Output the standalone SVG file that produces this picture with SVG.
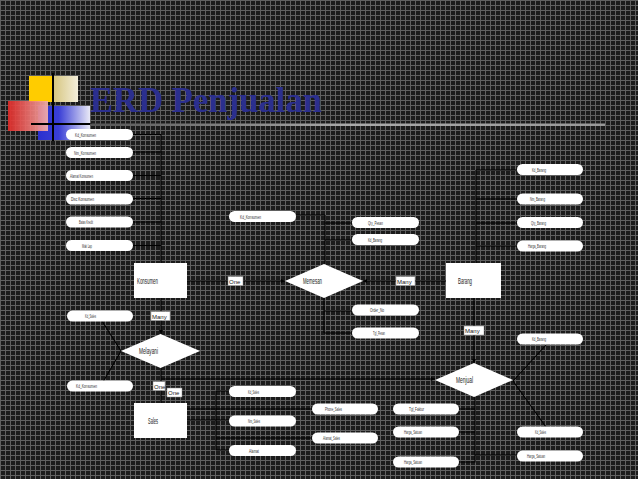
<svg xmlns="http://www.w3.org/2000/svg" width="638" height="479" viewBox="0 0 638 479">
<defs>
<pattern id="grid" x="0" y="0" width="5" height="5" patternUnits="userSpaceOnUse">
<rect width="5" height="5" fill="#1b1b1b"/>
<path d="M0.5 0V5M0 0.5H5" stroke="#606060" stroke-width="1"/>
</pattern>
<linearGradient id="beige" x1="0" x2="1" y1="0" y2="0"><stop offset="0" stop-color="#d6c57e"/><stop offset="1" stop-color="#f3eedb"/></linearGradient>
<linearGradient id="red" x1="0" x2="1" y1="0" y2="0"><stop offset="0" stop-color="#e12a27"/><stop offset="1" stop-color="#f5b0ae"/></linearGradient>
<linearGradient id="blue" x1="0" x2="1" y1="0" y2="0"><stop offset="0" stop-color="#2a2fcf"/><stop offset="0.4" stop-color="#3a3fd6"/><stop offset="1" stop-color="#e9e9f6"/></linearGradient>
<linearGradient id="rule" x1="0" x2="1" y1="0" y2="0"><stop offset="0" stop-color="#555"/><stop offset="0.5" stop-color="#aaa"/><stop offset="1" stop-color="#999"/></linearGradient>
<marker id="ah" viewBox="0 0 6 6" refX="6" refY="3" markerWidth="4" markerHeight="4" orient="auto" markerUnits="userSpaceOnUse"><path d="M0 0L6 3L0 6Z" fill="#000"/></marker>
<style>
.at{fill:#fff}
.t{font-family:"Liberation Sans Narrow","Liberation Sans",Arial,sans-serif;font-size:5.5px;fill:#333}
.e{font-family:"Liberation Sans Narrow","Liberation Sans",Arial,sans-serif;font-size:8.5px;fill:#222}
.lb{fill:#fff;stroke:#888;stroke-width:0.5}
.lt{font-family:"Liberation Sans Narrow","Liberation Sans",Arial,sans-serif;font-size:6px;fill:#222}
.c{stroke:#000;stroke-width:1.1;fill:none}
</style>
</defs>
<rect width="638" height="479" fill="url(#grid)"/>

<g id="connectors">
<path class="c" d="M161 134.5V263M133 134.5H161M133 152H161M133 175.5H161M133 198.5H161M133 222H161M133 245.5H161"/>
<path class="c" d="M187 281H285" marker-end="url(#ah)"/>
<path class="c" d="M446 281H363" marker-end="url(#ah)"/>
<path class="c" d="M325 264V215M296 215H325M325 223H352M325 240H352"/>
<path class="c" d="M324 298V333M324 311H352M324 333H352"/>
<path class="c" d="M476 263V170M476 170H517M476 199H517M476 223H517M476 246H517"/>
<path class="c" d="M474 298V363" marker-end="url(#ah)"/>
<path class="c" d="M161 298V334" marker-end="url(#ah)"/>
<path class="c" d="M161 368V403"/>
<path class="c" d="M102 321L121 351L103 382"/>
<path class="c" d="M161 379H435" marker-end="url(#ah)"/>
<path class="c" d="M187 420H229M216 391V450M216 391H229M216 450H229M187 409H312M216 438H312"/>
<path class="c" d="M475 397V462H459M459 409H475M459 432H475M475 455H517"/>
<path class="c" d="M513 381L546 345M513 381L546 427"/>
</g>

<g id="logo">
<rect x="29" y="76" width="24" height="26" fill="#ffcc00"/>
<rect x="53" y="76" width="25" height="26" fill="url(#beige)"/>
<rect x="38" y="106" width="52" height="34" fill="url(#blue)"/>
<rect x="8" y="101" width="40" height="30" fill="url(#red)" opacity="0.92"/>
<path d="M53 73V141M31 124H92" stroke="#000" stroke-width="2"/>
</g>
<g id="title">
<rect x="90" y="123.5" width="515" height="2.5" fill="url(#rule)"/>
<text x="90" y="112" font-family="Liberation Serif,serif" font-weight="bold" font-size="35" fill="#2b2f8e" textLength="232" lengthAdjust="spacingAndGlyphs">ERD Penjualan</text>
</g>

<g id="konsumen-attrs">
<rect class="at" x="66" y="129" width="67" height="11" rx="5.5"/><text class="t" x="75" y="136.5" textLength="21" lengthAdjust="spacingAndGlyphs">Kd_Konsumen</text>
<rect class="at" x="66" y="147" width="67" height="11" rx="5.5"/><text class="t" x="74" y="154.5" textLength="22" lengthAdjust="spacingAndGlyphs">Nm_Konsumen</text>
<rect class="at" x="66" y="170" width="67" height="11" rx="5.5"/><text class="t" x="70" y="177.5" textLength="23" lengthAdjust="spacingAndGlyphs">Alamat Konsumen</text>
<rect class="at" x="66" y="193.5" width="67" height="11" rx="5.5"/><text class="t" x="71" y="201" textLength="23" lengthAdjust="spacingAndGlyphs">Disc Konsumen</text>
<rect class="at" x="66" y="216.5" width="67" height="11" rx="5.5"/><text class="t" x="79" y="224" textLength="14" lengthAdjust="spacingAndGlyphs">Batas Kredit</text>
<rect class="at" x="66" y="240" width="67" height="11" rx="5.5"/><text class="t" x="82" y="247.5" textLength="10" lengthAdjust="spacingAndGlyphs">Mak Lap</text>
</g>

<g id="konsumen"><rect x="134" y="263" width="53" height="35" fill="#fff"/><text class="e" x="137" y="284" textLength="21" lengthAdjust="spacingAndGlyphs">Konsumen</text></g>
<g id="memesan"><path d="M285 281L324 264L363 281L324 298Z" fill="#fff"/><text class="e" x="303" y="284" textLength="19" lengthAdjust="spacingAndGlyphs">Memesan</text></g>
<g id="barang"><rect x="446" y="263" width="55" height="35" fill="#fff"/><text class="e" x="458" y="284" textLength="14" lengthAdjust="spacingAndGlyphs">Barang</text></g>
<g id="melayani"><path d="M121 351L160.5 334L200 351L160.5 368Z" fill="#fff"/><text class="e" x="139" y="354" textLength="19" lengthAdjust="spacingAndGlyphs">Melayani</text></g>
<g id="menjual"><path d="M435 380L474 363L513 380L474 397Z" fill="#fff"/><text class="e" x="456" y="383" textLength="17" lengthAdjust="spacingAndGlyphs">Menjual</text></g>
<g id="sales"><rect x="134" y="403" width="53" height="35" fill="#fff"/><text class="e" x="148" y="424" textLength="10" lengthAdjust="spacingAndGlyphs">Sales</text></g>

<g id="memesan-attrs">
<rect class="at" x="229" y="211" width="67" height="11" rx="5.5"/><text class="t" x="240" y="218.5" textLength="21" lengthAdjust="spacingAndGlyphs">Kd_Konsumen</text>
<rect class="at" x="352" y="217" width="67" height="11" rx="5.5"/><text class="t" x="368" y="224.5" textLength="15" lengthAdjust="spacingAndGlyphs">Qty_Pesan</text>
<rect class="at" x="352" y="234" width="67" height="11" rx="5.5"/><text class="t" x="368" y="241.5" textLength="14" lengthAdjust="spacingAndGlyphs">Kd_Barang</text>
<rect class="at" x="352" y="304.5" width="67" height="11" rx="5.5"/><text class="t" x="370" y="312" textLength="14" lengthAdjust="spacingAndGlyphs">Order_No</text>
<rect class="at" x="352" y="327.5" width="67" height="11" rx="5.5"/><text class="t" x="373" y="335" textLength="12" lengthAdjust="spacingAndGlyphs">Tgl_Pesan</text>
</g>

<g id="barang-attrs">
<rect class="at" x="517" y="164" width="66" height="11" rx="5.5"/><text class="t" x="532" y="171.5" textLength="14" lengthAdjust="spacingAndGlyphs">Kd_Barang</text>
<rect class="at" x="517" y="193.5" width="66" height="11" rx="5.5"/><text class="t" x="530" y="201" textLength="15" lengthAdjust="spacingAndGlyphs">Nm_Barang</text>
<rect class="at" x="517" y="217" width="66" height="11" rx="5.5"/><text class="t" x="531" y="224.5" textLength="15" lengthAdjust="spacingAndGlyphs">Qty_Barang</text>
<rect class="at" x="517" y="240.5" width="66" height="11" rx="5.5"/><text class="t" x="528" y="248" textLength="18" lengthAdjust="spacingAndGlyphs">Harga_Barang</text>
</g>

<g id="melayani-attrs">
<rect class="at" x="67" y="310.5" width="66" height="11" rx="5.5"/><text class="t" x="85" y="318" textLength="11" lengthAdjust="spacingAndGlyphs">Kd_Sales</text>
<rect class="at" x="67" y="380.5" width="66" height="11" rx="5.5"/><text class="t" x="76" y="388" textLength="21" lengthAdjust="spacingAndGlyphs">Kd_Konsumen</text>
</g>

<g id="sales-attrs">
<rect class="at" x="229" y="386" width="67" height="11" rx="5.5"/><text class="t" x="248" y="393.5" textLength="11" lengthAdjust="spacingAndGlyphs">Kd_Sales</text>
<rect class="at" x="229" y="415.5" width="67" height="11" rx="5.5"/><text class="t" x="248" y="423" textLength="12" lengthAdjust="spacingAndGlyphs">Nm_Sales</text>
<rect class="at" x="229" y="445" width="67" height="11" rx="5.5"/><text class="t" x="249" y="452.5" textLength="10" lengthAdjust="spacingAndGlyphs">Alamat</text>
<rect class="at" x="312" y="403.5" width="66" height="11" rx="5.5"/><text class="t" x="325" y="411" textLength="17" lengthAdjust="spacingAndGlyphs">Phone_Sales</text>
<rect class="at" x="312" y="432.5" width="66" height="11" rx="5.5"/><text class="t" x="323" y="440" textLength="17" lengthAdjust="spacingAndGlyphs">Alamat_Sales</text>
</g>

<g id="menjual-attrs">
<rect class="at" x="393" y="403.5" width="66" height="11" rx="5.5"/><text class="t" x="409" y="411" textLength="15" lengthAdjust="spacingAndGlyphs">Tgl_Faktur</text>
<rect class="at" x="393" y="426.5" width="66" height="11" rx="5.5"/><text class="t" x="404" y="434" textLength="18" lengthAdjust="spacingAndGlyphs">Harga_Satuan</text>
<rect class="at" x="393" y="456.5" width="66" height="11" rx="5.5"/><text class="t" x="404" y="464" textLength="18" lengthAdjust="spacingAndGlyphs">Harga_Satuan</text>
<rect class="at" x="517" y="333.5" width="66" height="11" rx="5.5"/><text class="t" x="532" y="341" textLength="14" lengthAdjust="spacingAndGlyphs">Kd_Barang</text>
<rect class="at" x="517" y="426.5" width="66" height="11" rx="5.5"/><text class="t" x="535" y="434" textLength="11" lengthAdjust="spacingAndGlyphs">Kd_Sales</text>
<rect class="at" x="517" y="450.5" width="66" height="11" rx="5.5"/><text class="t" x="527" y="458" textLength="18" lengthAdjust="spacingAndGlyphs">Harga_Satuan</text>
</g>

<g id="cardinality">
<rect class="lb" x="228" y="276.5" width="15" height="9"/><text class="lt" x="229" y="283.5">One</text>
<rect class="lb" x="396" y="276.5" width="19" height="9"/><text class="lt" x="397" y="283.5">Many</text>
<rect class="lb" x="151" y="311.5" width="19" height="9"/><text class="lt" x="152" y="318.5">Many</text>
<rect class="lb" x="153" y="381.5" width="12" height="9"/><text class="lt" x="154" y="388.5">One</text>
<rect class="lb" x="167" y="388" width="15" height="9"/><text class="lt" x="168" y="395">One</text>
<rect class="lb" x="464" y="326" width="20" height="9"/><text class="lt" x="465" y="333">Many</text>
</g>
</svg>
